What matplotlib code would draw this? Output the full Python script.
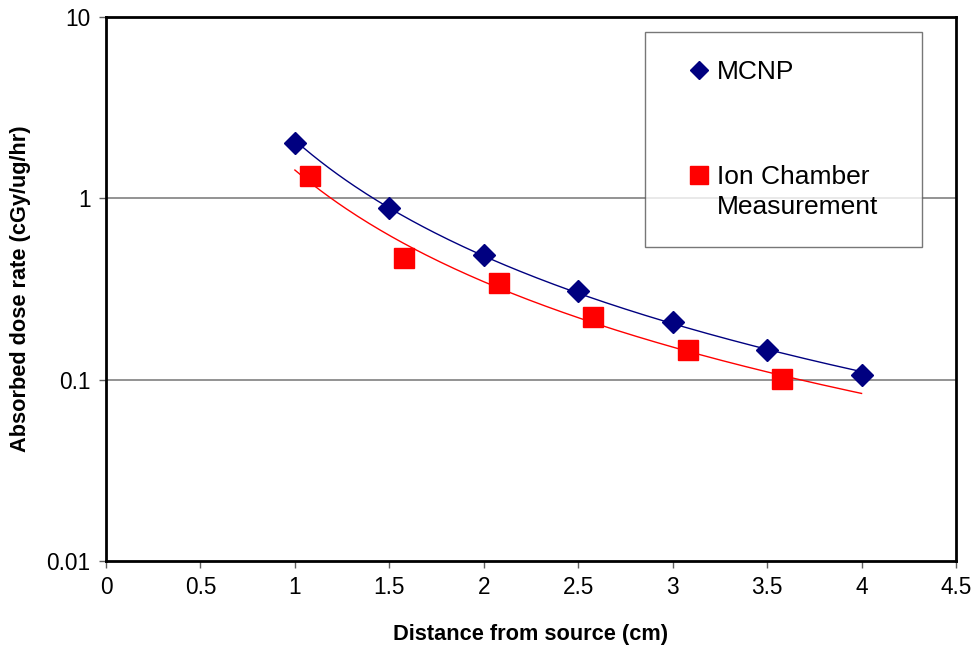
import matplotlib
matplotlib.use('Agg')
import matplotlib.pyplot as plt
from matplotlib.legend_handler import HandlerLine2D
import numpy as np

plt.rcParams['font.family'] = ['Liberation Sans', 'DejaVu Sans']

# MCNP calculated dose rates
mcnp_x = [1.0, 1.5, 2.0, 2.5, 3.0, 3.5, 4.0]
mcnp_y = [2.03, 0.89, 0.49, 0.31, 0.208, 0.146, 0.106]

# Ion chamber measurements
ion_x = [1.08, 1.58, 2.08, 2.58, 3.08, 3.58]
ion_y = [1.32, 0.468, 0.34, 0.221, 0.146, 0.101]

x_ticks = [0, 0.5, 1, 1.5, 2, 2.5, 3, 3.5, 4, 4.5]
x_labels = ['0', '0.5', '1', '1.5', '2', '2.5', '3', '3.5', '4', '4.5']
y_ticks = [0.01, 0.1, 1, 10]
y_labels = ['0.01', '0.1', '1', '10']

blue = '#000080'
red = '#ff0000'

# power-law trendlines (like Excel)
def power_fit(x, y):
    b, lna = np.polyfit(np.log(x), np.log(y), 1)
    return np.exp(lna), b

xt = np.linspace(1, 4, 200)
a1, b1 = power_fit(mcnp_x, mcnp_y)
a2, b2 = power_fit(ion_x, ion_y)

# legend markers pushed right a bit; the two line label gets its
# marker next to the first line
class ShiftedHandler(HandlerLine2D):
    def __init__(self, dx=0, dy=0, **kw):
        super().__init__(**kw)
        self.dx = dx
        self.dy = dy

    def create_artists(self, legend, orig_handle, xdescent, ydescent,
                       width, height, fontsize, trans):
        return super().create_artists(legend, orig_handle,
                                      xdescent - self.dx,
                                      ydescent - 2 * self.dy * fontsize,
                                      width, height, fontsize, trans)

fig = plt.figure(figsize=(9.78, 6.47), dpi=100)
ax = fig.add_axes([106/978, 1 - 561/647, (956-106)/978, (561-17)/647])

ax.set_yscale('log')
ax.set_xlim(0, 4.5)
ax.set_ylim(0.01, 10)

for yv in [0.1, 1]:
    ax.axhline(yv, color='#808080', lw=1.2, zorder=1)

ax.plot(xt, a1 * xt**b1, color=blue, lw=1, zorder=2)
ax.plot(xt, a2 * xt**b2, color=red, lw=1, zorder=2)
h1, = ax.plot(mcnp_x, mcnp_y, linestyle='none', marker='D', ms=10.7,
              color=blue, mec=blue, zorder=3)
h2, = ax.plot(ion_x, ion_y, linestyle='none', marker='s', ms=14.3,
              color=red, mec=red, zorder=3)

ax.set_xticks(x_ticks)
ax.set_xticklabels(x_labels)
ax.set_yticks(y_ticks)
ax.set_yticklabels(y_labels)
ax.minorticks_off()
ax.tick_params(axis='both', direction='out', length=5, width=1,
               color='#606060', labelsize=16.3, pad=6)

for s in ax.spines.values():
    s.set_linewidth(2)
    s.set_color('black')

ax.set_xlabel('Distance from source (cm)', fontsize=15.7, fontweight='bold',
              labelpad=18)
ax.set_ylabel('Absorbed dose rate (cGy/ug/hr)', fontsize=15.7,
              fontweight='bold', labelpad=11)

leg = ax.legend([h1, h2], ['MCNP', 'Ion Chamber\nMeasurement'],
                handler_map={h1: ShiftedHandler(dx=13),
                             h2: ShiftedHandler(dx=13, dy=0.65)},
                loc='upper left', mode='expand',
                bbox_to_anchor=(645/978, 1 - 243/647, 277/978, 211/647),
                bbox_transform=fig.transFigure, fontsize=19, frameon=True,
                fancybox=False, edgecolor='#555555', borderpad=1.08,
                labelspacing=3.05, handlelength=0.6, handletextpad=1.03,
                borderaxespad=0, markerscale=0.86)
for t in leg.get_texts():
    t.set_linespacing(1.3)
leg.get_frame().set_linewidth(1)
leg.get_frame().set_facecolor('white')

fig.savefig('out.png', dpi=100)
